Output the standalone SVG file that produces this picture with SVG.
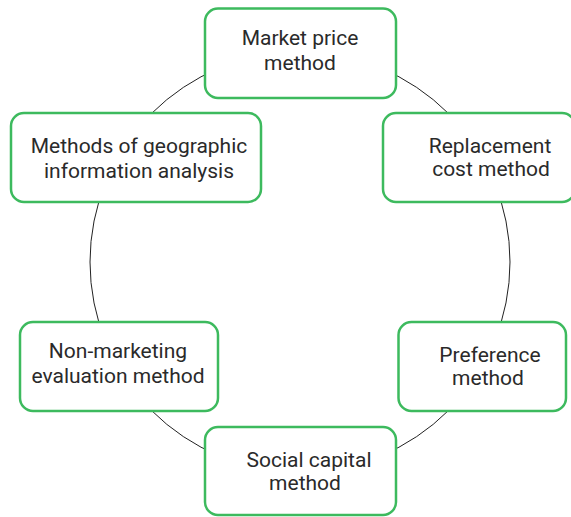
<svg xmlns="http://www.w3.org/2000/svg" width="571" height="517" viewBox="0 0 571 517">
<style>
.box{fill:#fff;stroke:#3dba5e;stroke-width:2.5}
.t{font-family:Roboto,"Liberation Sans",sans-serif;font-size:21px;fill:#2a2a2a;text-anchor:middle}
.c{fill:none;stroke:#222;stroke-width:1}
</style>
<rect width="571" height="517" fill="#fff"/>
<g id="connectors"><circle class="c" cx="300" cy="262" r="210"/></g>
<g id="n1"><rect class="box" x="205" y="8.5" width="191" height="89.5" rx="13"/><text class="t" x="300" y="45">Market price</text><text class="t" x="300" y="70">method</text></g>
<g id="n2"><rect class="box" x="383" y="113" width="192" height="89" rx="13"/><text class="t" x="490" y="153">Replacement</text><text class="t" x="491" y="176">cost method</text></g>
<g id="n3"><rect class="box" x="398.5" y="322" width="167.5" height="89" rx="13"/><text class="t" x="490" y="362">Preference</text><text class="t" x="488" y="385">method</text></g>
<g id="n4"><rect class="box" x="205" y="427" width="191" height="88" rx="13"/><text class="t" x="309" y="467">Social capital</text><text class="t" x="305" y="490">method</text></g>
<g id="n5"><rect class="box" x="20" y="322" width="198" height="89" rx="13"/><text class="t" x="118" y="358">Non-marketing</text><text class="t" x="118" y="383">evaluation method</text></g>
<g id="n6"><rect class="box" x="11" y="113" width="250" height="89" rx="13"/><text class="t" x="139" y="153">Methods of geographic</text><text class="t" x="139" y="178">information analysis</text></g>
</svg>
